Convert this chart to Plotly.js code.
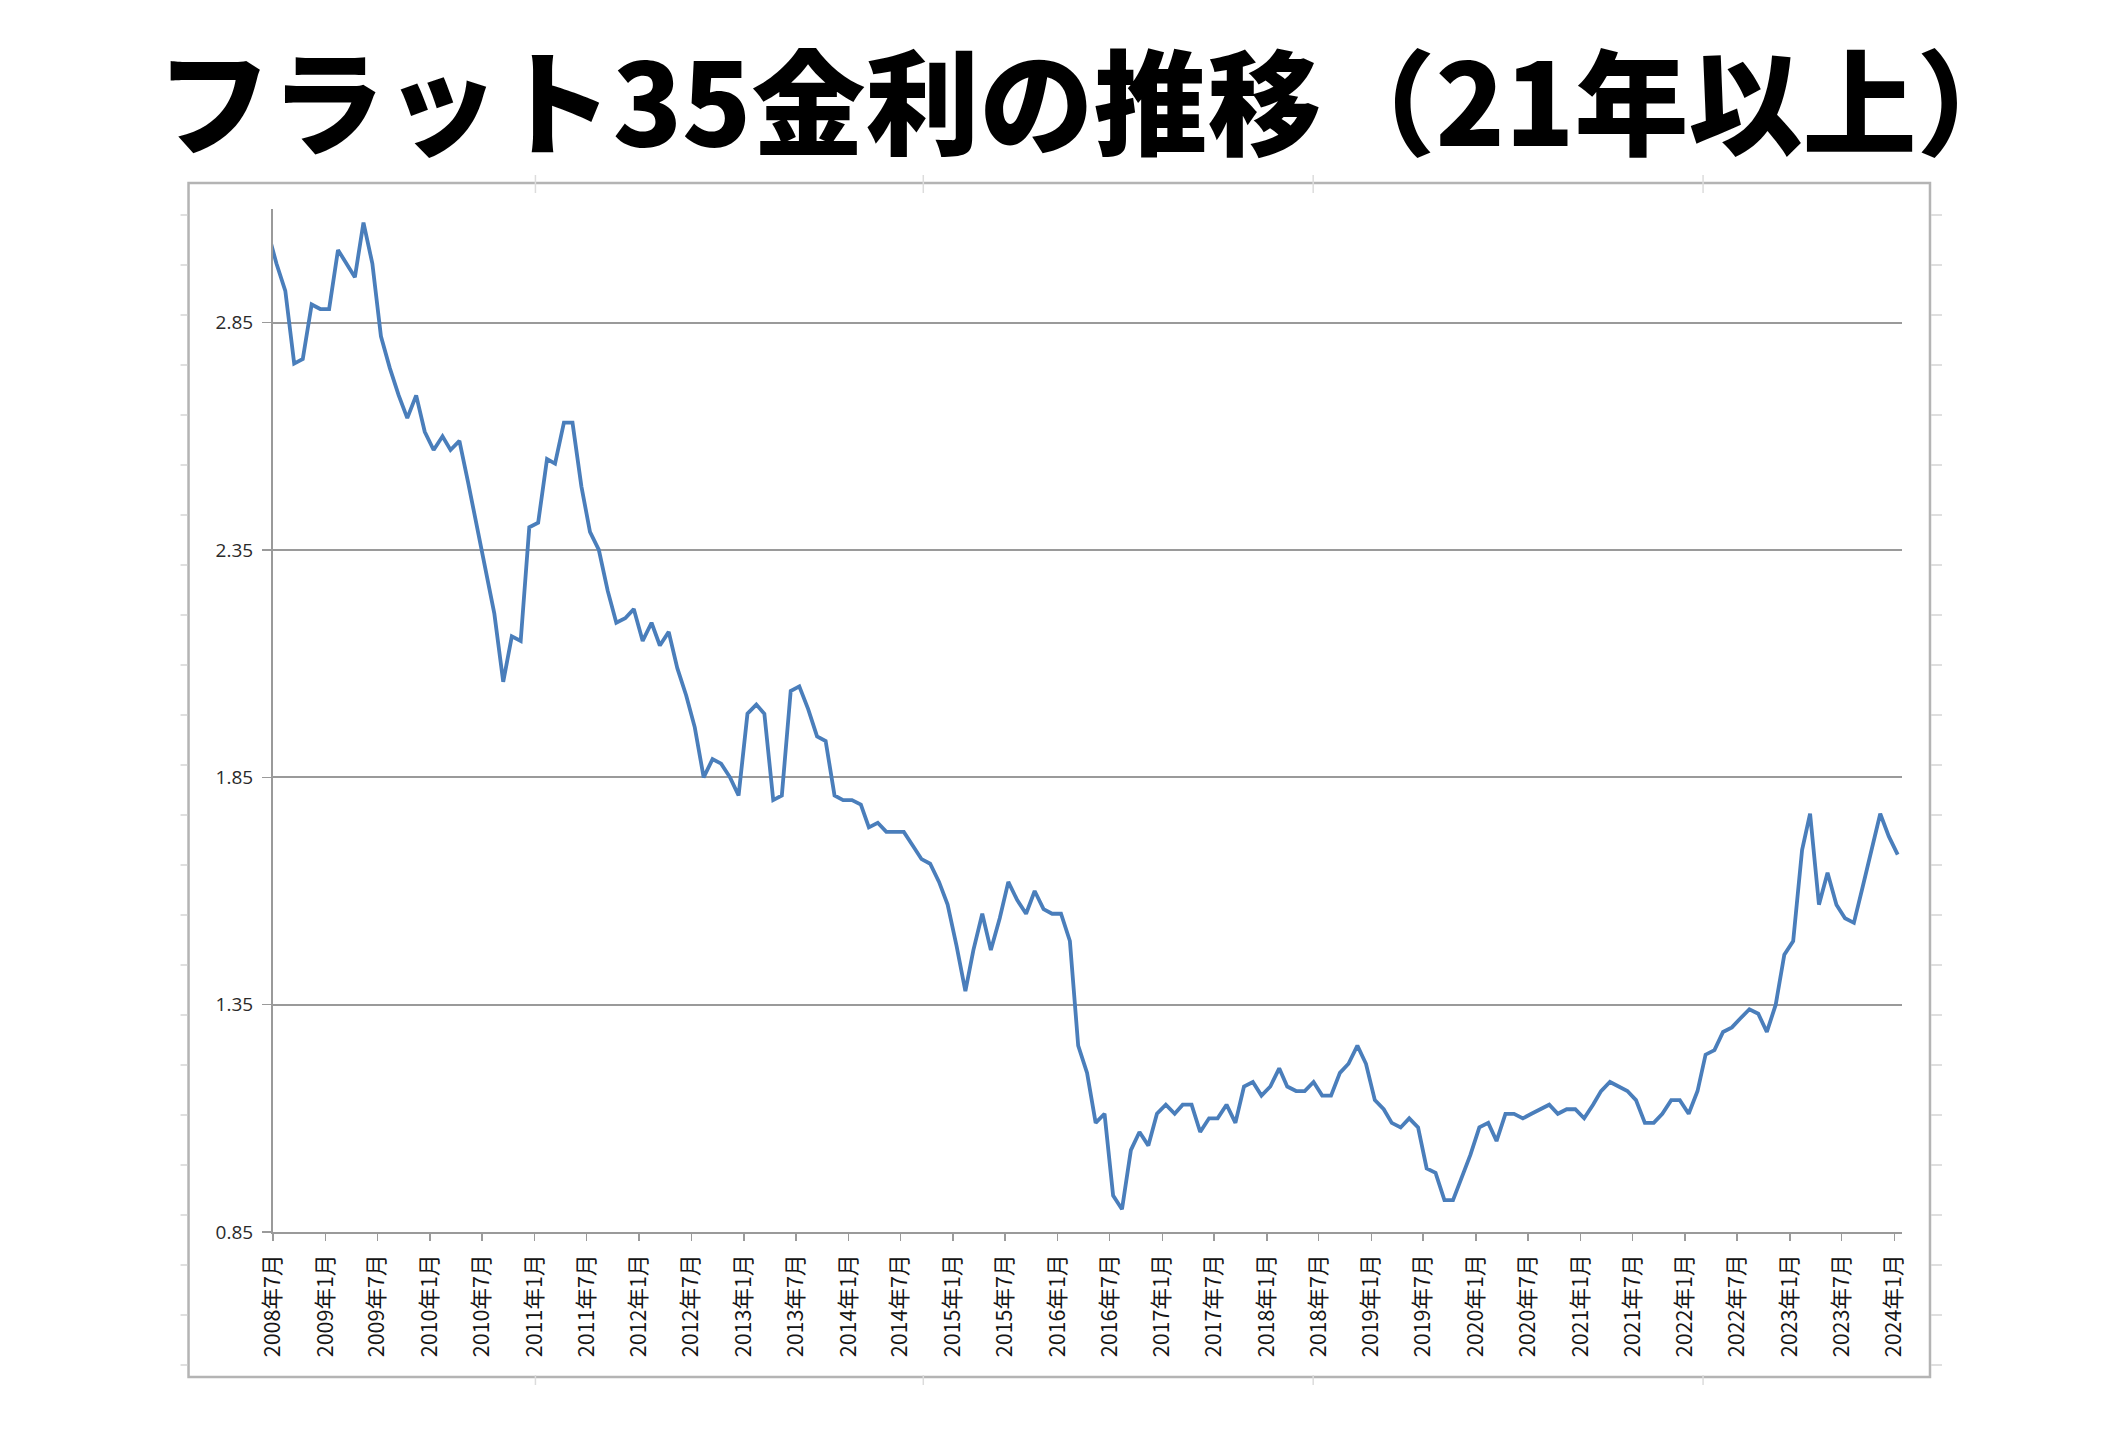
<!DOCTYPE html>
<html>
<head>
<meta charset="utf-8">
<script src="https://cdn.plot.ly/plotly-3.0.1.min.js"></script>
<style>
html, body { margin: 0; padding: 0; background: #ffffff; }
#chart { width: 2107px; height: 1453px; }
</style>
</head>
<body>
<div id="chart"></div>
<script>
// ---- data ----
const chartTitle = 'フラット35金利の推移（21年以上）';
const firstMonth = [2008, 6];   // first monthly value: 2008年6月
const rates = [
  3.05,
  2.98, 2.92, 2.76, 2.77, 2.89, 2.88, 2.88, 3.01, 2.98, 2.95, 3.07, 2.98,
  2.82, 2.75, 2.69, 2.64, 2.69, 2.61, 2.57, 2.60, 2.57, 2.59, 2.50, 2.40,
  2.31, 2.21, 2.06, 2.16, 2.15, 2.40, 2.41, 2.55, 2.54, 2.63, 2.63, 2.49,
  2.39, 2.35, 2.26, 2.19, 2.20, 2.22, 2.15, 2.19, 2.14, 2.17, 2.09, 2.03,
  1.96, 1.85, 1.89, 1.88, 1.85, 1.81, 1.99, 2.01, 1.99, 1.80, 1.81, 2.04,
  2.05, 2.00, 1.94, 1.93, 1.81, 1.80, 1.80, 1.79, 1.74, 1.75, 1.73, 1.73,
  1.73, 1.70, 1.67, 1.66, 1.62, 1.57, 1.48, 1.38, 1.47, 1.55, 1.47, 1.54,
  1.62, 1.58, 1.55, 1.60, 1.56, 1.55, 1.55, 1.49, 1.26, 1.20, 1.09, 1.11,
  0.93, 0.90, 1.03, 1.07, 1.04, 1.11, 1.13, 1.11, 1.13, 1.13, 1.07, 1.10,
  1.10, 1.13, 1.09, 1.17, 1.18, 1.15, 1.17, 1.21, 1.17, 1.16, 1.16, 1.18,
  1.15, 1.15, 1.20, 1.22, 1.26, 1.22, 1.14, 1.12, 1.09, 1.08, 1.10, 1.08,
  0.99, 0.98, 0.92, 0.92, 0.97, 1.02, 1.08, 1.09, 1.05, 1.11, 1.11, 1.10,
  1.11, 1.12, 1.13, 1.11, 1.12, 1.12, 1.10, 1.13, 1.16, 1.18, 1.17, 1.16,
  1.14, 1.09, 1.09, 1.11, 1.14, 1.14, 1.11, 1.16, 1.24, 1.25, 1.29, 1.30,
  1.32, 1.34, 1.33, 1.29, 1.35, 1.46, 1.49, 1.69, 1.77, 1.57, 1.64, 1.57,
  1.54, 1.53, 1.61, 1.69, 1.77, 1.72, 1.68
];
const tickMonths = [
  '2008-07','2009-01','2009-07','2010-01','2010-07','2011-01','2011-07','2012-01',
  '2012-07','2013-01','2013-07','2014-01','2014-07','2015-01','2015-07','2016-01',
  '2016-07','2017-01','2017-07','2018-01','2018-07','2019-01','2019-07','2020-01',
  '2020-07','2021-01','2021-07','2022-01','2022-07','2023-01','2023-07','2024-01'
];
const tickLabels = [
  '2008年7月','2009年1月','2009年7月','2010年1月','2010年7月','2011年1月','2011年7月','2012年1月',
  '2012年7月','2013年1月','2013年7月','2014年1月','2014年7月','2015年1月','2015年7月','2016年1月',
  '2016年7月','2017年1月','2017年7月','2018年1月','2018年7月','2019年1月','2019年7月','2020年1月',
  '2020年7月','2021年1月','2021年7月','2022年1月','2022年7月','2023年1月','2023年7月','2024年1月'
];
const yTicks = [0.85, 1.35, 1.85, 2.35, 2.85];

// ---- build month keys from the first month ----
const months = rates.map((_, i) => {
  const t = firstMonth[0] * 12 + (firstMonth[1] - 1) + i;
  const y = Math.floor(t / 12), m = (t % 12) + 1;
  return y + '-' + String(m).padStart(2, '0');
});

// ---- layout geometry (pixels) ----
const W = 2107, H = 1453;
const L = 272.5, R = 1902, T = 209, B = 1232;
const px = p => (p - L) / (R - L);
const py = p => (B - p) / (B - T);

const frame = { x0: 188, y0: 183, x1: 1930, y1: 1377 };
const shapes = [{
  type: 'rect', xref: 'paper', yref: 'paper', layer: 'below',
  x0: px(frame.x0), x1: px(frame.x1), y0: py(frame.y1), y1: py(frame.y0),
  line: { color: '#b4b4b4', width: 2.5 }, fillcolor: 'rgba(0,0,0,0)'
}];
// faint ruler marks outside the frame
for (let yy = 215; yy < frame.y1; yy += 50) {
  shapes.push({ type: 'line', xref: 'paper', yref: 'paper',
    x0: px(frame.x0 - 8), x1: px(frame.x0 - 1), y0: py(yy), y1: py(yy),
    line: { color: '#d4d4d4', width: 1.5 } });
  shapes.push({ type: 'line', xref: 'paper', yref: 'paper',
    x0: px(frame.x1 + 1), x1: px(frame.x1 + 12), y0: py(yy), y1: py(yy),
    line: { color: '#d4d4d4', width: 1.5 } });
}
[535, 923, 1313, 1703].forEach(xx => {
  shapes.push({ type: 'line', xref: 'paper', yref: 'paper',
    x0: px(xx), x1: px(xx), y0: py(frame.y0 - 8), y1: py(frame.y0 + 10),
    line: { color: '#dcdcdc', width: 1.5 } });
  shapes.push({ type: 'line', xref: 'paper', yref: 'paper',
    x0: px(xx), x1: px(xx), y0: py(frame.y1 - 2), y1: py(frame.y1 + 8),
    line: { color: '#dcdcdc', width: 1.5 } });
});

const trace = {
  type: 'scatter', mode: 'lines',
  x: months.map(m => m + '-13'),
  y: rates,
  line: { color: '#4a7ebb', width: 3.8 },
  hoverinfo: 'x+y'
};

const layout = {
  width: W, height: H,
  paper_bgcolor: '#ffffff', plot_bgcolor: 'rgba(0,0,0,0)',
  showlegend: false,
  margin: { l: L, r: W - R, t: T, b: H - B, pad: 0 },
  title: {
    text: chartTitle,
    font: { family: '"Noto Sans CJK JP", "Noto Sans", sans-serif', size: 114, weight: 900, color: '#000000' },
    xref: 'container', yref: 'container', x: 0.519, y: 0.927,
    xanchor: 'center', yanchor: 'middle'
  },
  xaxis: {
    type: 'date',
    range: ['2008-07-01', '2024-01-28'],
    tickmode: 'array',
    tickvals: tickMonths.map(m => m + '-01'),
    ticktext: tickLabels,
    tickangle: -90,
    tickfont: { family: '"Noto Sans CJK JP", sans-serif', size: 21.5, color: '#151515' },
    ticks: 'outside', ticklen: 7, tickwidth: 1.5, tickcolor: '#9a9a9a',
    ticklabelstandoff: 5,
    showline: true, linecolor: '#9a9a9a', linewidth: 2,
    showgrid: false, zeroline: false, fixedrange: true
  },
  yaxis: {
    range: [0.85, 3.1],
    tickmode: 'array',
    tickvals: yTicks,
    tickformat: '.2f',
    tickfont: { family: '"Open Sans", "Noto Sans", sans-serif', size: 19, color: '#2a2a2a' },
    ticks: 'outside', ticklen: 9, tickwidth: 1.5, tickcolor: '#9a9a9a',
    ticklabelstandoff: 5,
    showline: true, linecolor: '#9a9a9a', linewidth: 2,
    showgrid: true, gridcolor: '#9a9a9a', gridwidth: 2,
    zeroline: false, fixedrange: true
  },
  shapes: shapes
};

Plotly.newPlot('chart', [trace], layout, { displayModeBar: false, staticPlot: true });
</script>
</body>
</html>
